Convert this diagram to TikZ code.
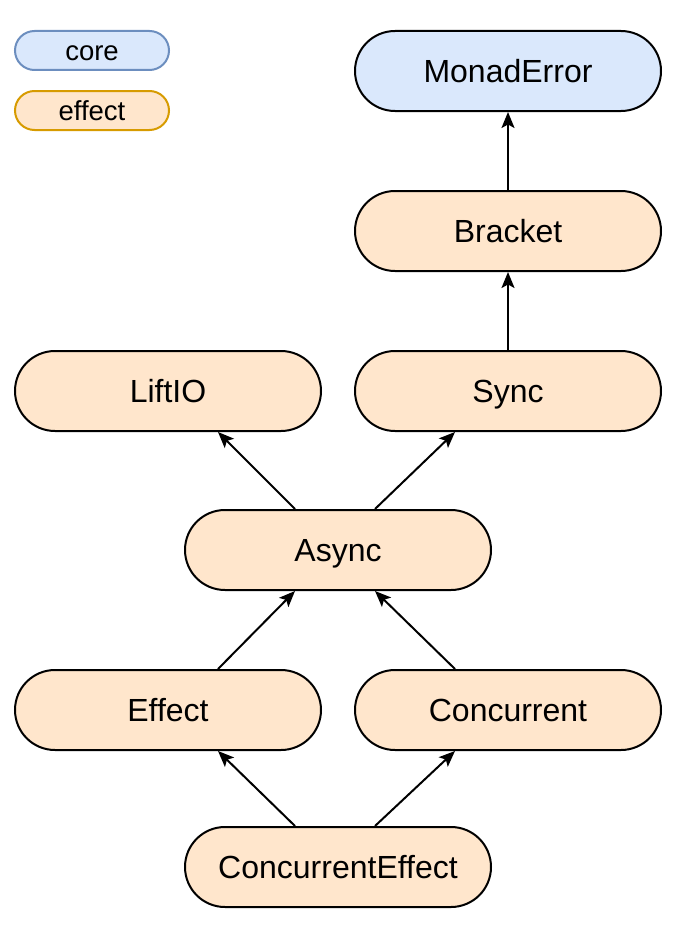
\documentclass[tikz,border=0pt]{standalone}
\usepackage{fontspec}
\setmainfont{Liberation Sans}
\usetikzlibrary{arrows.meta}
\definecolor{corefill}{HTML}{DAE8FC}
\definecolor{coreline}{HTML}{6C8EBF}
\definecolor{effectfill}{HTML}{FFE6CC}
\definecolor{effectline}{HTML}{D79B00}
\begin{document}
\begin{tikzpicture}[x=1pt,y=-1pt,
		cls/.style={draw=black,line width=2pt,rounded corners=40pt,minimum width=306pt,minimum height=80pt,text height=23pt,text depth=0pt,font=\fontsize{32}{36}\selectfont},
		legend/.style={line width=2pt,rounded corners=19.5pt,minimum width=154pt,minimum height=39pt,text height=19.7pt,text depth=0pt,font=\fontsize{27.5}{31}\selectfont},
		inherit/.style={line width=2pt,-{Stealth[length=16pt,width=13pt,inset=3.5pt]}}]
			\useasboundingbox (0,0) rectangle (690,934);
			% legend
			\node[legend,draw=coreline,fill=corefill] (core) at (92,50.5) {core};
			\node[legend,draw=effectline,fill=effectfill] (effect) at (92,110.5) {effect};
			% classes
			\node[cls,fill=corefill] (monaderror) at (508,71) {MonadError};
			\node[cls,fill=effectfill] (bracket) at (508,231) {Bracket};
			\node[cls,fill=effectfill] (liftio) at (168,391) {LiftIO};
			\node[cls,fill=effectfill] (sync) at (508,391) {Sync};
			\node[cls,fill=effectfill] (async) at (338,550) {Async};
			\node[cls,fill=effectfill] (effectc) at (168,710) {Effect};
			\node[cls,fill=effectfill] (concurrent) at (508,710) {Concurrent};
			\node[cls,fill=effectfill] (concurrenteffect) at (338,867) {ConcurrentEffect};
			% arrows
			\draw[inherit] (bracket.north) -- (monaderror.south);
			\draw[inherit] (sync.north) -- (bracket.south);
			\draw[inherit] ([xshift=-43pt]async.north) -- ([xshift=50pt]liftio.south);
			\draw[inherit] ([xshift=37pt]async.north) -- ([xshift=-53pt]sync.south);
			\draw[inherit] ([xshift=50pt]effectc.north) -- ([xshift=-43pt]async.south);
			\draw[inherit] ([xshift=-53pt]concurrent.north) -- ([xshift=37pt]async.south);
			\draw[inherit] ([xshift=-43pt]concurrenteffect.north) -- ([xshift=50pt]effectc.south);
			\draw[inherit] ([xshift=37pt]concurrenteffect.north) -- ([xshift=-53pt]concurrent.south);
		\end{tikzpicture}
\end{document}
